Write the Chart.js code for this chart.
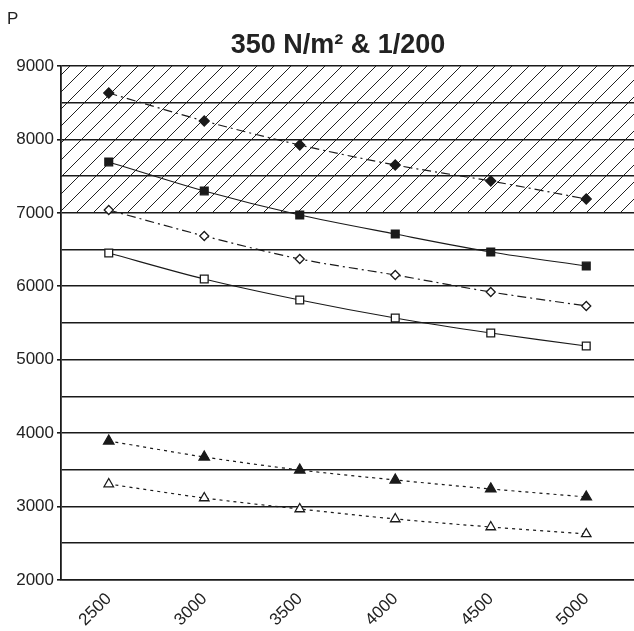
<!DOCTYPE html>
<html>
<head>
<meta charset="utf-8">
<script src="https://cdn.jsdelivr.net/npm/chart.js@4/dist/chart.umd.min.js"></script>
<style>
  html, body { margin: 0; padding: 0; background: #fff; }
  #wrap { width: 634px; height: 631px; }
</style>
</head>
<body>
<div id="wrap"><canvas id="c" width="634" height="631"></canvas></div>
<script>
const labels = ['2500', '3000', '3500', '4000', '4500', '5000'];

const diamondFilled = [8632, 8251, 7924, 7652, 7434, 7189];
const squareFilled  = [7693, 7298, 6971, 6712, 6467, 6276];
const diamondOpen   = [7039, 6685, 6372, 6154, 5922, 5732];
const squareOpen    = [6453, 6099, 5813, 5568, 5364, 5187];
const triFilled     = [3893, 3675, 3498, 3362, 3240, 3131];
const triOpen       = [3307, 3117, 2967, 2831, 2722, 2627];

const hatchFrom = 7000;
const hatchTo   = 9000;

const INK = '#1a1a1a';
const FONT = '"Liberation Sans", Arial, sans-serif';
const DASHDOT = [9, 4, 2, 4];
const DOTTED  = [3, 4];

function series(data, style, radius, filled, dash) {
  return {
    data,
    borderColor: INK,
    borderWidth: 1.2,
    borderDash: dash,
    tension: 0.3,
    pointStyle: style,
    pointRadius: radius,
    pointBorderWidth: 1.3,
    pointBorderColor: INK,
    pointBackgroundColor: filled ? INK : '#fff',
    fill: false,
  };
}

function hatchPattern(ctx) {
  const s = 17;
  const tile = document.createElement('canvas');
  tile.width = s; tile.height = s;
  const t = tile.getContext('2d');
  t.strokeStyle = '#222';
  t.lineWidth = 1;
  t.beginPath();
  t.moveTo(0, s); t.lineTo(s, 0);
  t.moveTo(-2, 2); t.lineTo(2, -2);
  t.moveTo(s - 2, s + 2); t.lineTo(s + 2, s - 2);
  t.stroke();
  return ctx.createPattern(tile, 'repeat');
}

const hatch = {
  id: 'hatch',
  beforeDraw(chart) {
    const { ctx, chartArea: a, scales: { y } } = chart;
    const top = y.getPixelForValue(hatchTo);
    const bot = y.getPixelForValue(hatchFrom);
    ctx.save();
    ctx.fillStyle = hatchPattern(ctx);
    ctx.fillRect(a.left, top, a.right - a.left, bot - top);
    ctx.restore();
  }
};

const texts = {
  id: 'texts',
  afterDraw(chart) {
    const { ctx } = chart;
    ctx.save();
    ctx.fillStyle = '#222';
    ctx.font = '17px ' + FONT;
    ctx.textBaseline = 'middle';
    ctx.fillText('P', 7, 19);
    ctx.font = 'bold 27px ' + FONT;
    ctx.textAlign = 'center';
    ctx.fillText('350 N/m² & 1/200', 338, 46);
    ctx.restore();
  }
};

new Chart(document.getElementById('c'), {
  type: 'line',
  data: {
    labels,
    datasets: [
      series(diamondFilled, 'rectRot', 5, true, DASHDOT),
      series(squareFilled, 'rect', 5.5, true, []),
      series(diamondOpen, 'rectRot', 4.5, false, DASHDOT),
      series(squareOpen, 'rect', 5.5, false, []),
      series(triFilled, 'triangle', 6, true, DOTTED),
      series(triOpen, 'triangle', 5.5, false, DOTTED),
    ],
  },
  options: {
    responsive: false,
    animation: false,
    layout: { autoPadding: false, padding: { top: 66, right: 0, left: 0, bottom: 0 } },
    plugins: {
      legend: { display: false },
      title: { display: false },
      tooltip: { enabled: false },
    },
    scales: {
      x: {
        offset: true,
        grid: { display: false },
        border: { color: INK, width: 1.5 },
        ticks: {
          color: '#222',
          font: { family: FONT, size: 17 },
          minRotation: 45,
          maxRotation: 45,
          padding: 1,
        },
        afterFit(s) {
          s.height = 51;
          s.paddingLeft = 0;
          s.paddingRight = 0;
        },
      },
      y: {
        min: 2000,
        max: 9000,
        border: { color: INK, width: 1.8 },
        grid: {
          color: INK,
          lineWidth: 1.6,
          tickLength: 4,
          tickColor: c => (c.tick && c.tick.value % 1000 === 0) ? INK : 'rgba(0,0,0,0)',
        },
        ticks: {
          stepSize: 500,
          color: '#222',
          padding: 3,
          font: { family: FONT, size: 17 },
          callback: v => (v % 1000 === 0 ? String(v) : ''),
        },
        afterFit(s) { s.width = 61; },
      },
    },
  },
  plugins: [hatch, texts],
});
</script>
</body>
</html>
